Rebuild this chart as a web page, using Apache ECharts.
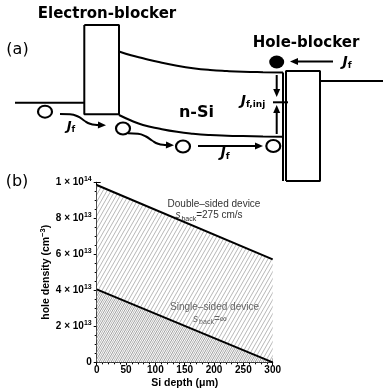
<!DOCTYPE html>
<html>
<head>
<meta charset="utf-8">
<script src="https://cdn.jsdelivr.net/npm/echarts@6/dist/echarts.min.js"></script>
<style>html,body{margin:0;padding:0;background:#fff;}#c{width:383px;height:391px;}</style>
</head>
<body>
<div id="c"></div>
<script>
// ---------- Panel (b) data ----------
const depth = [0, 300];                       // Si depth (µm)
const doubleSided = [0.985e14, 0.572e14];     // hole density, s_back = 275 cm/s
const singleSided = [0.405e14, 0];            // hole density, s_back = ∞
const xTicks = [0, 50, 100, 150, 200, 250, 300];
const yTicks = [0, 2e13, 4e13, 6e13, 8e13, 1e14];

// ---------- Panel (a) schematic (diagram units) ----------
const ebRect = [[84.3,25],[119,25],[119,114.3],[84.3,114.3],[84.3,25]];
const hbRect = [[286,181],[286,71],[320,71],[320,181],[286,181]];
const hbEdge = [[283,72.5],[283,181]];
const leftLevel = [[15,102.7],[84.3,102.7]];
const rightLevel = [[320,81],[383,81]];
const cbCurve = [[119,51.5],[131,55.3],[143,58.3],[160,62.3],[177,65.7],[193,68.2],[210,70],[227,71.1],[243,71.8],[263,72.2],[283,72.4]];
const vbCurve = [[119,115],[131,120.5],[143,125],[160,128.8],[177,131.8],[193,133.7],[210,135],[227,135.7],[243,136.1],[263,136.5],[283,136.7]];
const injTick = [[273,102.3],[288,102.3]];
const wavy1 = [[60,114],[70,114.3],[78,116.5],[84,120.5],[90,123.8],[97,125],[101,125.2]];
const wavy2 = [[128,133.3],[138,133.8],[146,136.5],[152,140.5],[158,143.8],[165,145],[169,145.2]];
const arrowSegs = [
  [[96,125],[106,125.3]],
  [[164,145],[174,145.3]],
  [[198,146],[263,146]],
  [[333,61.5],[290,61.5]],
  [[276.7,75],[276.7,97]],
  [[276.7,134],[276.7,105]]
];
const openHoles = [[45,111.7],[123,128.5],[183,146.5],[273.3,146]];
const trappedHole = [[276.7,62]];

// arrowheads derived from the arrow segments (tip at the segment end)
const HEAD_LEN = 8;
const arrowHeads = arrowSegs.map(s => {
  const a = s[s.length - 2], b = s[s.length - 1];
  const dx = b[0] - a[0], dy = b[1] - a[1];
  const L = Math.hypot(dx, dy);
  const th = Math.atan2(dy, dx) * 180 / Math.PI;
  return { value: [b[0] - dx / L * HEAD_LEN / 2, b[1] - dy / L * HEAD_LEN / 2], symbolRotate: -90 - th };
});
// shafts stop a little before the tip
const arrowShafts = arrowSegs.map(s => {
  const a = s[s.length - 2], b = s[s.length - 1];
  const dx = b[0] - a[0], dy = b[1] - a[1];
  const L = Math.hypot(dx, dy);
  return s.slice(0, -1).concat([[b[0] - dx / L * (HEAD_LEN - 2), b[1] - dy / L * (HEAD_LEN - 2)]]);
});

function hatch(w, h, color, lw, offset, bg) {
  const c = document.createElement('canvas');
  c.width = w; c.height = h;
  const ctx = c.getContext('2d');
  if (bg) { ctx.fillStyle = bg; ctx.fillRect(0, 0, w, h); }
  ctx.strokeStyle = color; ctx.lineWidth = lw;
  ctx.beginPath();
  for (let k = -2; k <= 2; k++) {
    const dx = k * w + offset;
    ctx.moveTo(dx - w, 2 * h);
    ctx.lineTo(dx + 2 * w, -h);
  }
  ctx.stroke();
  return c;
}
const patUpper = hatch(4, 7, '#ababab', 0.85, 0, '#ffffff');
const patLower = hatch(4, 7, '#8a8a8a', 0.85, 2, null);

const B = 'Liberation Sans, Arial, sans-serif';
const D = 'DejaVu Sans, sans-serif';

function yFmt(v) {
  if (v === 0) return '0';
  const e = Math.floor(Math.log10(v) + 1e-9);
  const m = Math.round(v / Math.pow(10, e));
  return '{m|' + m + ' \u00d7 10}{e|' + e + '}';
}

const lineStyleA = { color: '#000', width: 2 };
function schemLine(data, smooth) {
  return { type: 'line', xAxisIndex: 0, yAxisIndex: 0, data: data, showSymbol: false, symbol: 'none',
    smooth: smooth || false, lineStyle: lineStyleA, silent: true, animation: false, clip: false };
}

const chart = echarts.init(document.getElementById('c'), null, { renderer: 'canvas' });
const option = {
  animation: false,
  backgroundColor: '#fff',
  grid: [
    { left: 0, top: 0, width: 383, height: 391, show: false },
    { left: 96.7, top: 182.3, width: 176, height: 180, show: false }
  ],
  xAxis: [
    { gridIndex: 0, type: 'value', min: 0, max: 383, show: false },
    { gridIndex: 1, type: 'value', min: 0, max: 300, interval: 50, position: 'bottom',
      axisLine: { show: true, lineStyle: { color: '#000', width: 1 } },
      axisTick: { show: true, inside: true, length: 4, lineStyle: { color: '#000' } },
      minorTick: { show: true, splitNumber: 5, length: 2, lineStyle: { color: '#000' } },
      splitLine: { show: false },
      axisLabel: { color: '#000', fontFamily: B, fontWeight: 'bold', fontSize: 10, margin: 3,
        customValues: xTicks },
      name: 'Si depth (\u03bcm)', nameLocation: 'middle', nameGap: 15,
      nameTextStyle: { color: '#000', fontFamily: B, fontWeight: 'bold', fontSize: 10.5 } },
    { gridIndex: 1, type: 'value', min: 0, max: 300, interval: 50, position: 'top',
      axisLine: { show: true, lineStyle: { color: '#000', width: 1 } },
      axisTick: { show: true, inside: true, length: 3, lineStyle: { color: '#000' } },
      minorTick: { show: true, splitNumber: 5, length: 2, lineStyle: { color: '#000' } },
      splitLine: { show: false }, axisLabel: { show: false } }
  ],
  yAxis: [
    { gridIndex: 0, type: 'value', min: 0, max: 391, inverse: true, show: false },
    { gridIndex: 1, type: 'value', min: 0, max: 1e14, interval: 2e13, position: 'left',
      axisLine: { show: true, lineStyle: { color: '#000', width: 1 } },
      axisTick: { show: true, inside: true, length: 4, lineStyle: { color: '#000' } },
      minorTick: { show: true, splitNumber: 4, length: 2, lineStyle: { color: '#000' } },
      splitLine: { show: false },
      axisLabel: { color: '#000', margin: 5, formatter: yFmt, customValues: yTicks,
        fontFamily: B, fontWeight: 'bold', fontSize: 10,
        rich: {
          m: { fontFamily: B, fontWeight: 'bold', fontSize: 10, color: '#000', lineHeight: 14 },
          e: { fontFamily: B, fontWeight: 'bold', fontSize: 7, color: '#000', verticalAlign: 'top', lineHeight: 14 }
        } },
      name: '{n|hole density (cm}{s|\u22123}{n|)}', nameLocation: 'middle', nameGap: 33,
      nameTextStyle: { rich: {
        n: { fontFamily: B, fontWeight: 'bold', fontSize: 10.5, color: '#000', lineHeight: 14 },
        s: { fontFamily: B, fontWeight: 'bold', fontSize: 7.5, color: '#000', verticalAlign: 'top', lineHeight: 14 }
      } } },
    { gridIndex: 1, type: 'value', min: 0, max: 1e14, interval: 2e13, position: 'right',
      axisLine: { show: true, lineStyle: { color: '#000', width: 1 } },
      axisTick: { show: true, inside: true, length: 3, lineStyle: { color: '#000' } },
      minorTick: { show: true, splitNumber: 4, length: 2, lineStyle: { color: '#000' } },
      splitLine: { show: false }, axisLabel: { show: false } }
  ],
  series: [
    // ----- panel (a) -----
    schemLine(ebRect), schemLine(hbRect), schemLine(hbEdge),
    schemLine(leftLevel), schemLine(rightLevel),
    schemLine(cbCurve, true), schemLine(vbCurve, true), schemLine(injTick),
    schemLine(wavy1, true), schemLine(wavy2, true)
  ].concat(arrowShafts.map(s => schemLine(s))).concat([
    { type: 'scatter', xAxisIndex: 0, yAxisIndex: 0, data: arrowHeads, symbol: 'triangle', symbolSize: [7, HEAD_LEN],
      itemStyle: { color: '#000', opacity: 1 }, silent: true, z: 4 },
    { type: 'scatter', xAxisIndex: 0, yAxisIndex: 0, data: openHoles, symbol: 'circle', symbolSize: [14, 12],
      itemStyle: { color: '#fff', borderColor: '#000', borderWidth: 2, opacity: 1 }, silent: true, z: 5 },
    { type: 'scatter', xAxisIndex: 0, yAxisIndex: 0, data: trappedHole, symbol: 'circle', symbolSize: [15, 13],
      itemStyle: { color: '#000', opacity: 1 }, silent: true, z: 5 },
    // ----- panel (b) -----
    { type: 'line', xAxisIndex: 1, yAxisIndex: 1, name: 'Double-sided',
      data: depth.map((x, i) => [x, doubleSided[i]]), showSymbol: false, symbol: 'none',
      lineStyle: { color: '#000', width: 2 },
      areaStyle: { color: { image: patUpper, repeat: 'repeat' }, opacity: 1 }, z: 2 },
    { type: 'line', xAxisIndex: 1, yAxisIndex: 1, name: 'Single-sided',
      data: depth.map((x, i) => [x, singleSided[i]]), showSymbol: false, symbol: 'none',
      lineStyle: { color: '#000', width: 2 },
      areaStyle: { color: { image: patLower, repeat: 'repeat' }, opacity: 1 }, z: 3 }
  ]),
  graphic: [
    { type: 'text', x: 107, y: 14, style: { text: 'Electron-blocker', font: 'bold 15px ' + D, fill: '#000', align: 'center', verticalAlign: 'middle' } },
    { type: 'text', x: 306, y: 43, style: { text: 'Hole-blocker', font: 'bold 15px ' + D, fill: '#000', align: 'center', verticalAlign: 'middle' } },
    { type: 'text', x: 17.5, y: 50, style: { text: '(a)', font: '16px ' + D, fill: '#000', align: 'center', verticalAlign: 'middle' } },
    { type: 'text', x: 17, y: 182, style: { text: '(b)', font: '16px ' + D, fill: '#000', align: 'center', verticalAlign: 'middle' } },
    { type: 'text', x: 196.5, y: 112.5, style: { text: 'n-Si', font: 'bold 16px ' + D, fill: '#000', align: 'center', verticalAlign: 'middle' } },
    { type: 'text', x: 347, y: 62, style: { text: '{j|J}{s|f}', align: 'center', verticalAlign: 'middle',
      rich: { j: { fontFamily: D, fontWeight: 'bold', fontStyle: 'italic', fontSize: 14, fill: '#000', lineHeight: 16 },
              s: { fontFamily: D, fontWeight: 'bold', fontSize: 9, fill: '#000', verticalAlign: 'bottom', lineHeight: 16 } } } },
    { type: 'text', x: 253, y: 101.5, style: { text: '{j|J}{s|f,inj}', align: 'center', verticalAlign: 'middle',
      rich: { j: { fontFamily: D, fontWeight: 'bold', fontStyle: 'italic', fontSize: 14, fill: '#000', lineHeight: 16 },
              s: { fontFamily: D, fontWeight: 'bold', fontSize: 9, fill: '#000', verticalAlign: 'bottom', lineHeight: 16 } } } },
    { type: 'text', x: 71, y: 127, style: { text: '{j|J}{s|f}', align: 'center', verticalAlign: 'middle',
      rich: { j: { fontFamily: D, fontWeight: 'bold', fontStyle: 'italic', fontSize: 13, fill: '#000', lineHeight: 15 },
              s: { fontFamily: D, fontWeight: 'bold', fontSize: 8.5, fill: '#000', verticalAlign: 'bottom', lineHeight: 15 } } } },
    { type: 'text', x: 225, y: 153, style: { text: '{j|J}{s|f}', align: 'center', verticalAlign: 'middle',
      rich: { j: { fontFamily: D, fontWeight: 'bold', fontStyle: 'italic', fontSize: 14, fill: '#000', lineHeight: 16 },
              s: { fontFamily: D, fontWeight: 'bold', fontSize: 9, fill: '#000', verticalAlign: 'bottom', lineHeight: 16 } } } },
    { type: 'text', x: 214, y: 204.3, z: 50, style: { text: 'Double\u2013sided device', font: '10px ' + B, fill: '#333', align: 'center', verticalAlign: 'middle' } },
    { type: 'text', x: 209, y: 215.7, z: 50, style: { text: '{i|s}{b|back}{n|=275 cm/s}', align: 'center', verticalAlign: 'middle',
      rich: { i: { fontFamily: B, fontStyle: 'italic', fontSize: 10, fill: '#333', lineHeight: 13, padding: [0, 1, 0, 0] },
              b: { fontFamily: B, fontSize: 7, fill: '#333', verticalAlign: 'bottom', lineHeight: 13 },
              n: { fontFamily: B, fontSize: 10, fill: '#333', lineHeight: 13 } } } },
    { type: 'text', x: 214.5, y: 307.7, z: 50, style: { text: 'Single\u2013sided device', font: '10px ' + B, fill: '#666', align: 'center', verticalAlign: 'middle' } },
    { type: 'text', x: 210, y: 319, z: 50, style: { text: '{i|s}{b|back}{n|=\u221e}', align: 'center', verticalAlign: 'middle',
      rich: { i: { fontFamily: B, fontStyle: 'italic', fontSize: 10, fill: '#666', lineHeight: 13, padding: [0, 1, 0, 0] },
              b: { fontFamily: B, fontSize: 7, fill: '#666', verticalAlign: 'bottom', lineHeight: 13 },
              n: { fontFamily: B, fontSize: 10, fill: '#666', lineHeight: 13 } } } }
  ]
};
chart.setOption(option);
</script>
</body>
</html>
